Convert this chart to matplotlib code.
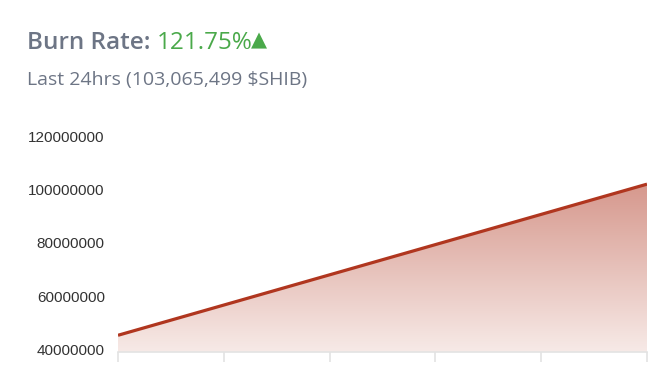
import numpy as np
import matplotlib
matplotlib.use("Agg")
import matplotlib.pyplot as plt
from matplotlib.patches import Polygon

# data
x_pos = [0, 5]
burn_values = [45_500_000, 102_000_000]
tick_positions = [0, 1, 2, 3, 4, 5]
y_ticks = [40000000, 60000000, 80000000, 100000000, 120000000]

title_label = "Burn Rate: "
title_value = "121.75%"
subtitle = "Last 24hrs (103,065,499 $SHIB)"

line_color = "#b0361f"
grey_text = "#6d7585"
green = "#4aa94a"

plt.rcParams['font.family'] = ['Open Sans', 'DejaVu Sans']

fig = plt.figure(figsize=(6.6, 3.8), dpi=100)
ax = fig.add_axes([118/660, 1 - 352/380, (647 - 118)/660, (352 - 136)/380])

ax.set_xlim(0, 5)
ax.set_ylim(39_250_000, 120_000_000)

# gradient fill under the line
xs = np.array(x_pos, dtype=float)
ys = np.array(burn_values, dtype=float)
verts = [(xs[0], ax.get_ylim()[0])] + list(zip(xs, ys)) + [(xs[-1], ax.get_ylim()[0])]
poly = Polygon(verts, closed=True, facecolor='none', edgecolor='none')
ax.add_patch(poly)

top_rgb = np.array([214, 152, 141]) / 255
bot_rgb = np.array([247, 234, 231]) / 255
n = 256
t = np.linspace(0, 1, n)[:, None]
grad = (top_rgb * (1 - t) + bot_rgb * t)
img = np.repeat(grad[:, None, :], 2, axis=1)
ymax = max(burn_values)
im = ax.imshow(img, extent=[xs[0], xs[-1], ax.get_ylim()[0], ymax],
               aspect='auto', origin='upper', zorder=1)
im.set_clip_path(poly)

ax.plot(xs, ys, color=line_color, lw=2.3, solid_capstyle='butt', zorder=3)

ax.set_yticks(y_ticks)
ax.set_yticklabels([str(v) for v in y_ticks], family='Liberation Sans')
ax.set_xticks(tick_positions)
ax.set_xticklabels([])

for s in ['top', 'right', 'left']:
    ax.spines[s].set_visible(False)
ax.spines['bottom'].set_color('#e3e3e3')
ax.spines['bottom'].set_linewidth(1.2)
ax.tick_params(axis='x', length=7, color='#e3e3e3', width=1.2)
ax.tick_params(axis='y', length=0, pad=9.5, labelsize=11, labelcolor='#333333')
ax.set_ylim(39_250_000, 120_000_000)
ax.set_xlim(0, 5)

# header
t1 = fig.text(27/660, 1 - 49/380, title_label, fontsize=17.5, color=grey_text,
              fontweight='semibold', va='baseline', ha='left')
t2 = ax.annotate(title_value, xy=(1, 0), xycoords=t1, fontsize=17.5, color=green,
                 va='bottom', ha='left', annotation_clip=False)
ax.annotate("\u25b2", xy=(1, 0), xycoords=t2, xytext=(-1, 3), textcoords='offset points',
            fontsize=15, color=green, family='DejaVu Sans', va='bottom', ha='left',
            annotation_clip=False)
fig.text(27/660, 1 - 85/380, subtitle, fontsize=14, color=grey_text,
         va='baseline', ha='left')

fig.savefig("out.png", dpi=100)
